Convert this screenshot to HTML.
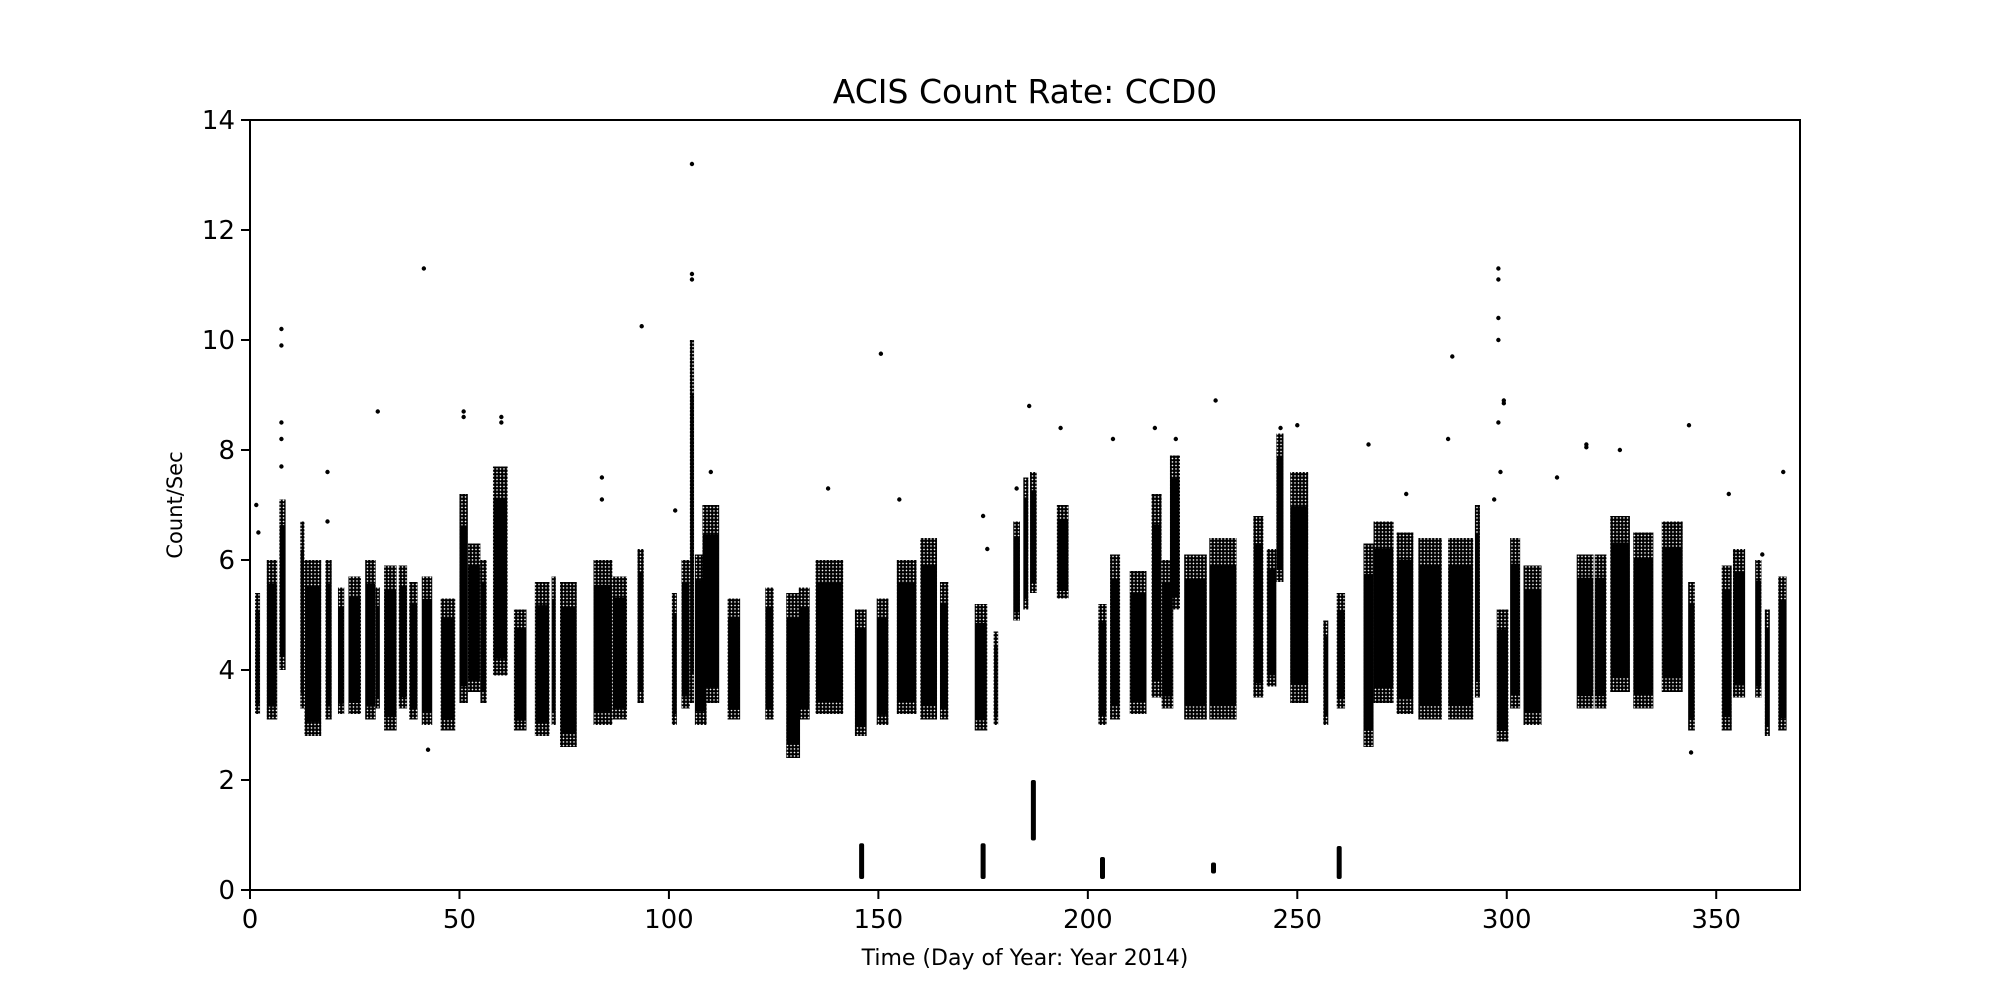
<!DOCTYPE html>
<html><head><meta charset="utf-8"><style>
html,body{margin:0;padding:0;background:#fff;}
svg{display:block;}
text{font-family:"DejaVu Sans","Liberation Sans",sans-serif;fill:#000;}
</style></head><body>
<svg id="chart" width="2000" height="1000" viewBox="0 0 2000 1000">
<defs>
<pattern id="dots" width="3.5" height="3.5" patternUnits="userSpaceOnUse"><circle cx="1.75" cy="1.75" r="1.8" fill="#000"/></pattern>
</defs>
<rect x="0" y="0" width="2000" height="1000" fill="#fff"/>
<text x="1025" y="103" font-size="33" text-anchor="middle">ACIS Count Rate: CCD0</text>
<g id="marks"></g>
<rect x="250" y="120" width="1550" height="770" fill="none" stroke="#000" stroke-width="2"/>
<g id="xaxis"></g>
<g id="yaxis"></g>
<text x="1025" y="965" font-size="22" text-anchor="middle">Time (Day of Year: Year 2014)</text>
<text x="0" y="0" font-size="21" text-anchor="middle" transform="translate(182,505) rotate(-90)">Count/Sec</text>
</svg>
<script>
const xTicks=[0,50,100,150,200,250,300,350];
const yTicks=[0,2,4,6,8,10,12,14];
const clusterStart=[1.2,4,7,12,13,18,21,23.5,27.5,30,32,35.5,38,41,45.5,50,52,55,58,63,68,72,74,82,86.5,92.5,100.7,103,105,106.2,108,114,123,128,131,135,144.4,149.6,154.4,160,164.7,173,177.5,182.2,184.6,186.2,192.6,202.5,205.3,210,215.2,217.6,219.6,223,229,239.5,242.7,245,248.3,256.2,259.4,265.8,268.2,273.7,278.9,286,292.4,297.6,300.8,304,316.7,321,324.7,330.2,337,343.3,351.3,354,359.3,361.6,364.8];
const clusterEnd=[2.4,6.5,8.5,13,17,19.5,22.5,26.5,30,31,35,37.5,40,43.5,49,52,55,56.5,61.5,66,71.5,73,78,86.5,90,94,101.9,105,106,109,112,117,125,131.3,133.6,141.6,147.2,152.4,159.1,164,166.7,176,178.6,183.8,185.8,187.8,195.4,204.5,207.7,214,217.6,220.4,222,228.4,235.5,241.9,245,246.7,252.6,257.4,261.4,268.2,273,277.7,284.5,292,293.6,300.4,303.2,308.3,320.7,323.8,329.4,335,342,344.9,353.7,356.9,360.8,362.8,366.8];
const clusterHigh=[5.4,6.0,7.1,6.7,6.0,6.0,5.5,5.7,6.0,5.5,5.9,5.9,5.6,5.7,5.3,7.2,6.3,6.0,7.7,5.1,5.6,5.7,5.6,6.0,5.7,6.2,5.4,6.0,10.0,6.1,7.0,5.3,5.5,5.4,5.5,6.0,5.1,5.3,6.0,6.4,5.6,5.2,4.7,6.7,7.5,7.6,7.0,5.2,6.1,5.8,7.2,6.0,7.9,6.1,6.4,6.8,6.2,8.3,7.6,4.9,5.4,6.3,6.7,6.5,6.4,6.4,7.0,5.1,6.4,5.9,6.1,6.1,6.8,6.5,6.7,5.6,5.9,6.2,6.0,5.1,5.7,4.6];
const clusterLow=[3.2,3.1,4.0,3.3,2.8,3.1,3.2,3.2,3.1,3.3,2.9,3.3,3.1,3.0,2.9,3.4,3.6,3.4,3.9,2.9,2.8,3.0,2.6,3.0,3.1,3.4,3.0,3.3,3.4,3.0,3.4,3.1,3.1,2.4,3.1,3.2,2.8,3.0,3.2,3.1,3.1,2.9,3.0,4.9,5.1,5.4,5.3,3.0,3.1,3.2,3.5,3.3,5.1,3.1,3.1,3.5,3.7,5.6,3.4,3.0,3.3,2.6,3.4,3.2,3.1,3.1,3.5,2.7,3.3,3.0,3.3,3.3,3.6,3.3,3.6,2.9,2.9,3.5,3.5,2.8,2.9,2.7];
const lowDays=[146,175,187,203.5,230,260];
const lowTop=[0.85,0.85,2.0,0.6,0.5,0.8];
const lowBottom=[0.2,0.2,0.9,0.2,0.3,0.2];
const outDays=[1.5,2,7.5,7.5,7.5,7.5,7.5,18.5,18.5,30.5,41.5,42.5,51,51,60,60,84,84,93.5,105.5,105.5,105.5,101.5,110,138,150.6,155,175,176,183,186,193.5,206,216,221,230.5,246,250,267,276,286,287,297,298,298,298,298,298,298.5,299.3,299.3,312,319,319,327,343.5,344,353,361,366];
const outVals=[7.0,6.5,7.7,8.2,8.5,9.9,10.2,7.6,6.7,8.7,11.3,2.55,8.6,8.7,8.6,8.5,7.5,7.1,10.25,13.2,11.1,11.2,6.9,7.6,7.3,9.75,7.1,6.8,6.2,7.3,8.8,8.4,8.2,8.4,8.2,8.9,8.4,8.45,8.1,7.2,8.2,9.7,7.1,11.3,11.1,10.4,10.0,8.5,7.6,8.9,8.85,7.5,8.1,8.05,8.0,8.45,2.5,7.2,6.1,7.6];

const NS='http://www.w3.org/2000/svg';
const X0=250,X1=1800,Y0=890,Y1=120,XMAX=370,YMAX=14;
function sx(d){return X0+(d/XMAX)*(X1-X0);}
function sy(v){return Y0-(v/YMAX)*(Y0-Y1);}
const marks=document.getElementById('marks');
function mk(tag,attrs,parent){const e=document.createElementNS(NS,tag);for(const k in attrs)e.setAttribute(k,attrs[k]);parent.appendChild(e);return e;}

for(let i=0;i<clusterStart.length;i++){
  const xa=sx(clusterStart[i]),xb=sx(clusterEnd[i]);
  const yt=sy(clusterHigh[i]),yb=sy(clusterLow[i]);
  const g=mk('g',{},marks);
  
  
  const fr=mk('rect',{x:xa,y:yt,width:Math.max(3,xb-xa),height:yb-yt,fill:'url(#dots)'},g);
  
  
  const h=yb-yt;
  const core=mk('rect',{x:xa+0.5,y:yt+h*0.15,width:Math.max(2,xb-xa-1),height:h*0.77,fill:'#000'},g);
  
  
}
for(let i=0;i<lowDays.length;i++){
  const r=mk('rect',{x:sx(lowDays[i])-2.5,y:sy(lowTop[i]),width:5,height:sy(lowBottom[i])-sy(lowTop[i]),fill:'#000',rx:2},marks);
  
  
}
for(let i=0;i<outDays.length;i++){
  const c=mk('circle',{cx:sx(outDays[i]),cy:sy(outVals[i]),r:2.2,fill:'#000'},marks);
  
  
}
const xa=document.getElementById('xaxis');
for(const t of xTicks){
  const l=mk('line',{x1:sx(t),x2:sx(t),y1:Y0,y2:Y0+9,stroke:'#000','stroke-width':2},xa);
  
  
  const tx=mk('text',{x:sx(t),y:Y0+38,'font-size':26,'text-anchor':'middle'},xa);
  tx.textContent=t;
  
  
}
const ya=document.getElementById('yaxis');
for(const t of yTicks){
  const l=mk('line',{x1:X0-9,x2:X0,y1:sy(t),y2:sy(t),stroke:'#000','stroke-width':2},ya);
  
  
  const tx=mk('text',{x:X0-15,y:sy(t)+9,'font-size':26,'text-anchor':'end'},ya);
  tx.textContent=t;
  
  
}
</script>
</body></html>
